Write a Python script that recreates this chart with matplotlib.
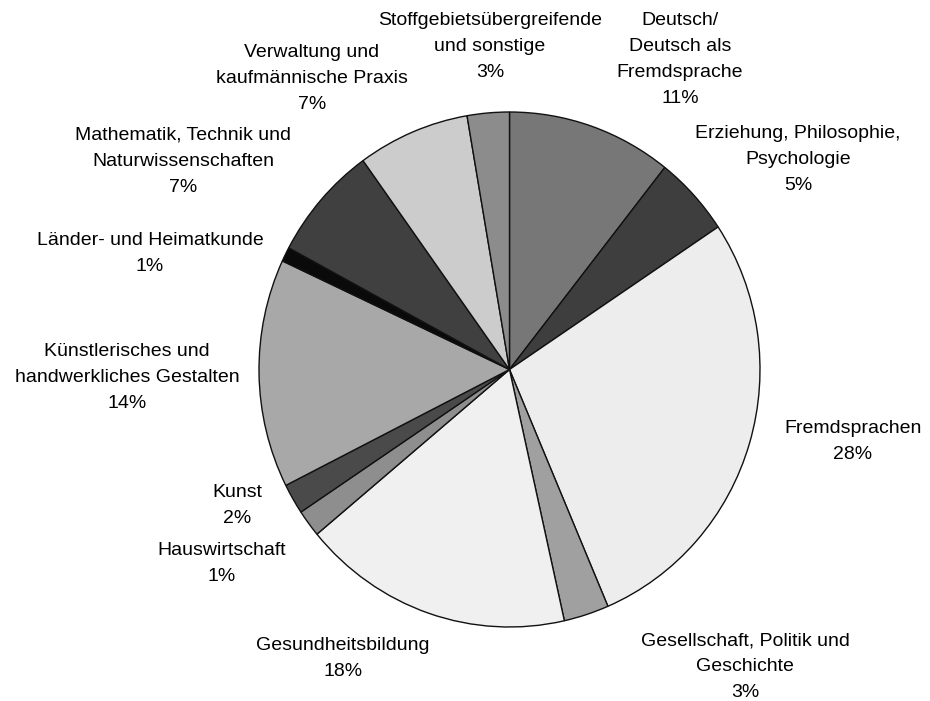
import matplotlib
matplotlib.use("Agg")
import matplotlib.pyplot as plt

W, H = 930, 701

categories = [
    "Deutsch/\nDeutsch als\nFremdsprache",
    "Erziehung, Philosophie,\nPsychologie",
    "Fremdsprachen",
    "Gesellschaft, Politik und\nGeschichte",
    "Gesundheitsbildung",
    "Hauswirtschaft",
    "Kunst",
    "Künstlerisches und\nhandwerkliches Gestalten",
    "Länder- und Heimatkunde",
    "Mathematik, Technik und\nNaturwissenschaften",
    "Verwaltung und\nkaufmännische Praxis",
    "Stoffgebietsübergreifende\nund sonstige",
]
values = [10.6, 5.0, 27.8, 2.9, 17.4, 1.7, 1.9, 14.3, 0.9, 7.2, 7.2, 2.7]
pct_labels = ["11%", "5%", "28%", "3%", "18%", "1%", "2%", "14%", "1%", "7%", "7%", "3%"]
colors = ["#777777", "#3e3e3e", "#ededed", "#a0a0a0", "#f0f0f0", "#8e8e8e",
          "#4a4a4a", "#a8a8a8", "#0a0a0a", "#404040", "#cccccc", "#8c8c8c"]

# label centre positions in pixels (x, y-centre of first line)
label_pos = [(680, 20), (798, 133), (853, 428), (745, 640), (343, 645), (222, 550),
             (237, 492), (127, 351), (150, 240), (183, 135), (312, 52), (490, 20)]

fig = plt.figure(figsize=(W / 100, H / 100), dpi=100)
fig.patch.set_facecolor("white")

# pie box in pixels
left, top, right, bottom = 259, 112, 760, 627
ax = fig.add_axes([left / W, 1 - bottom / H, (right - left) / W, (bottom - top) / H])
ax.pie(values, colors=colors, startangle=90, counterclock=False, radius=1.0,
       wedgeprops=dict(edgecolor="#111111", linewidth=1.0))
ax.set_aspect("auto")
ax.set_xlim(-1.0, 1.0)
ax.set_ylim(-1.0, 1.0)
ax.axis("off")

for cat, pct, (x, y) in zip(categories, pct_labels, label_pos):
    fig.text(x / W, 1 - (y - 8) / H, cat + "\n" + pct, ha="center", va="top",
             fontsize=14, family="Liberation Sans", color="black",
             linespacing=1.7)

fig.savefig("out.png", dpi=100, facecolor="white")
